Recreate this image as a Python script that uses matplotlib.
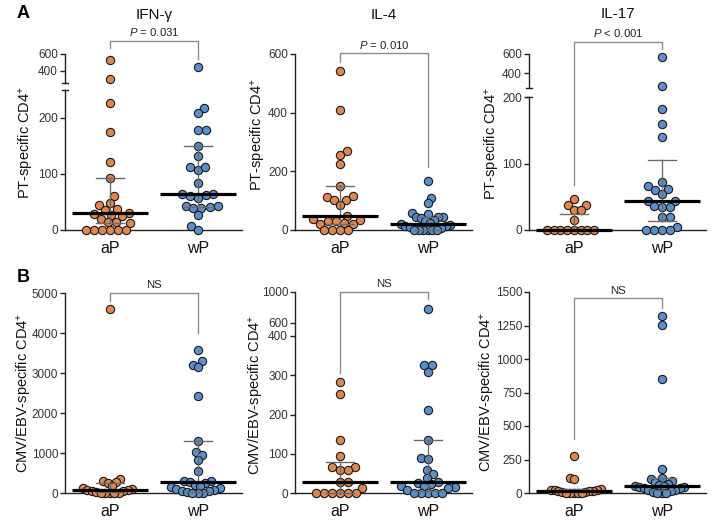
import numpy as np
import matplotlib
matplotlib.use("Agg")
import matplotlib.pyplot as plt
import matplotlib.transforms as mtransforms

plt.rcParams['font.family'] = ['Liberation Sans', 'DejaVu Sans']
plt.rcParams['mathtext.fontset'] = 'custom'
plt.rcParams['mathtext.rm'] = 'Liberation Sans'
plt.rcParams['mathtext.it'] = 'Liberation Sans:italic'

groups = ['aP', 'wP']

# A: PT-specific CD4+ responses
ifng_ap = [530, 304, 227, 175, 121, 93, 61, 49, 45, 38, 36, 30, 28, 27, 25, 20, 15, 14, 12, 0, 0, 0, 0, 0, 0]
ifng_wp = [441, 218, 209, 179, 179, 150, 133, 112, 107, 112, 84, 64, 62, 60, 65, 58, 42, 40, 41, 39, 42, 27, 7, 0]
il4_ap = [543, 408, 269, 257, 225, 149, 117, 114, 103, 103, 86, 48, 36, 34, 32, 30, 24, 22, 20, 0, 0, 0, 0]
il4_wp = [166, 109, 91, 57, 54, 46, 43, 43, 40, 34, 30, 25, 22, 18, 15, 12, 10, 8, 0, 0, 0, 0, 0, 0]
il17_ap = [47, 38, 37, 30, 30, 15, 0, 0, 0, 0, 0, 0, 0, 0]
il17_wp = [566, 272, 182, 160, 140, 72, 67, 62, 60, 55, 44, 44, 36, 35, 35, 20, 19, 5, 0, 0, 0, 0]

# B: CMV/EBV-specific CD4+ responses
ifng_cmv_ap = [4608, 350, 292, 267, 250, 180, 130, 100, 80, 70, 60, 40, 20, 10, 0, 0, 0, 0]
ifng_cmv_wp = [3583, 3292, 3208, 3150, 2433, 1292, 1017, 958, 833, 542, 290, 290, 270, 250, 200,
               180, 150, 120, 100, 80, 60, 40, 20, 10, 0, 0]
il4_cmv_ap = [282, 253, 135, 93, 66, 65, 58, 58, 28, 27, 14, 0, 0, 0, 0, 0, 0]
il4_cmv_wp = [776, 326, 326, 308, 212, 134, 88, 86, 59, 49, 38, 27, 25, 22, 18, 17, 15, 12, 8, 0, 0, 0, 0, 0]
il17_cmv_ap = [274, 112, 107, 30, 25, 22, 20, 18, 15, 12, 10, 5, 0, 0, 0, 0, 0]
il17_cmv_wp = [1318, 1256, 851, 179, 112, 104, 87, 80, 65, 60, 55, 50, 48, 45, 40, 35, 25, 20, 12, 8, 0, 0, 0]

# median and error bar ends (aP, wP) as drawn
ifng_med, ifng_lo, ifng_hi = [31, 64], [12, 41], [93, 150]
il4_med, il4_lo, il4_hi = [48, 20], [22, 0], [149, 46]
il17_med, il17_lo, il17_hi = [0, 44], [0, 13], [24, 106]
ifng_cmv_med, ifng_cmv_lo, ifng_cmv_hi = [75, 270], [20, 30], [250, 1292]
il4_cmv_med, il4_cmv_lo, il4_cmv_hi = [28, 27], [0, 5], [80, 134]
il17_cmv_med, il17_cmv_lo, il17_cmv_hi = [17, 50], [5, 20], [30, 112]

titles = ['IFN-γ', 'IL-4', 'IL-17']
pvals = ['$P$ = 0.031', '$P$ = 0.010', '$P$ < 0.001', 'NS', 'NS', 'NS']
ylab_a = 'PT-specific CD4$^{+}$'
ylab_b = 'CMV/EBV-specific CD4$^{+}$'

ORANGE = '#E0874F'
BLUE = '#5B8FCB'
W, H = 714, 528

fig = plt.figure(figsize=(W / 100, H / 100), dpi=100)

# layout in pixels: left, zero-line y, scale breakpoints (values -> px above zero), ticks, breaks
panels = [
    dict(left=65, y0=230, vals=[0, 250, 251, 600], px=[0, 140, 147, 176], brk=(250, 251),
         ticks=[0, 100, 200, 400, 600], ap=ifng_ap, wp=ifng_wp,
         med=ifng_med, lo=ifng_lo, hi=ifng_hi, ylab=ylab_a, ylx=36, yly=142,
         bracket=(41, 48, 59), ptxt=32, title=15),
    dict(left=295, y0=230, vals=[0, 600], px=[0, 176], brk=None,
         ticks=[0, 200, 400, 600], ap=il4_ap, wp=il4_wp,
         med=il4_med, lo=il4_lo, hi=il4_hi, ylab=ylab_a, ylx=268, yly=134,
         bracket=(53, 62, 167), ptxt=45, title=15),
    dict(left=529, y0=230, vals=[0, 200, 250, 600], px=[0, 132.7, 142, 176], brk=(200, 250),
         ticks=[0, 100, 200, 400, 600], ap=il17_ap, wp=il17_wp,
         med=il17_med, lo=il17_lo, hi=il17_hi, ylab=ylab_a, ylx=502, yly=143,
         bracket=(42, 185, 49), ptxt=33, title=14),
    dict(left=65, y0=493, vals=[0, 5000], px=[0, 200], brk=None,
         ticks=[0, 1000, 2000, 3000, 4000, 5000], ap=ifng_cmv_ap, wp=ifng_cmv_wp,
         med=ifng_cmv_med, lo=ifng_cmv_lo, hi=ifng_cmv_hi, ylab=ylab_b, ylx=34, yly=393,
         bracket=(293, 301, 333), ptxt=285, title=None),
    dict(left=295, y0=493, vals=[0, 400, 470, 1000], px=[0, 157, 160.5, 201], brk=None,
         ticks=[0, 100, 200, 300, 400, 600, 1000], ap=il4_cmv_ap, wp=il4_cmv_wp,
         med=il4_cmv_med, lo=il4_cmv_lo, hi=il4_cmv_hi, ylab=ylab_b, ylx=266, yly=395,
         bracket=(292, 373, 299), ptxt=284, title=None),
    dict(left=529, y0=493, vals=[0, 1500], px=[0, 201], brk=None,
         ticks=[0, 250, 500, 750, 1000, 1250, 1500], ap=il17_cmv_ap, wp=il17_cmv_wp,
         med=il17_cmv_med, lo=il17_cmv_lo, hi=il17_cmv_hi, ylab=ylab_b, ylx=497, yly=392,
         bracket=(298, 439, 308), ptxt=291, title=None),
]

XMIN, XMAX = -0.51, 1.5
PXU = 88.0   # pixels per x unit
DOT = 8.3    # marker diameter, px
SPREAD = 27  # max half-width of a swarm, px


def swarm(ypx, d):
    # simple beeswarm: place each point at the nearest free x offset (pixels)
    ypx = np.asarray(ypx, float)
    xs = np.zeros(len(ypx))
    placed = []
    for k, i in enumerate(np.argsort(ypx, kind='stable')):
        y = ypx[i]
        cands = [0.0]
        for j in placed:
            dy = y - ypx[j]
            if abs(dy) < d:
                dx = np.sqrt(d * d - dy * dy)
                cands += [xs[j] + dx, xs[j] - dx]
        cands.sort(key=lambda c: (round(abs(c), 3), c if k % 2 else -c))
        for c in cands:
            if all((c - xs[j]) ** 2 + (y - ypx[j]) ** 2 >= d * d - 1e-6 for j in placed):
                xs[i] = c
                break
        placed.append(i)
    wmax = np.abs(xs).max()
    if wmax > SPREAD:
        xs = xs * SPREAD / wmax
    return xs


for n, p in enumerate(panels):
    width = (XMAX - XMIN) * PXU
    top = p['px'][-1]
    ax = fig.add_axes([p['left'] / W, 1 - p['y0'] / H, width / W, top / H])
    vals, pxs = p['vals'], p['px']
    fwd = lambda v, vals=vals, pxs=pxs: np.interp(v, vals, pxs)
    inv = lambda q, vals=vals, pxs=pxs: np.interp(q, pxs, vals)
    ax.set_yscale('function', functions=(fwd, inv))
    ax.set_xlim(XMIN, XMAX)
    ax.set_ylim(vals[0], vals[-1])

    for g, (data, col) in enumerate([(p['ap'], ORANGE), (p['wp'], BLUE)]):
        data = np.asarray(data, float)
        xoff = swarm(fwd(data), DOT * 0.97) / PXU
        ax.plot(g + xoff, data, 'o', ms=DOT * 0.72, mfc=col, mec='#1a1a1a', mew=0.8,
                clip_on=False, zorder=3)
        ax.plot([g, g], [p['lo'][g], p['hi'][g]], color='#6b6b6b', lw=1, zorder=4, clip_on=False)
        for yy in (p['lo'][g], p['hi'][g]):
            ax.plot([g - 0.16, g + 0.16], [yy, yy], color='#6b6b6b', lw=1, zorder=4, clip_on=False)
        ax.plot([g - 0.43, g + 0.43], [p['med'][g]] * 2, color='black', lw=2.3,
                solid_capstyle='butt', zorder=5, clip_on=False)

    # axes styling
    for s in ('top', 'right', 'left'):
        ax.spines[s].set_visible(False)
    ax.spines['bottom'].set_color('#222222')
    ax.spines['bottom'].set_linewidth(1)
    ax.spines['bottom'].set_zorder(2)
    yt = ax.get_yaxis_transform()
    if p['brk']:
        segs = [(vals[0], p['brk'][0]), (p['brk'][1], vals[-1])]
    else:
        segs = [(vals[0], vals[-1])]
    for a, b in segs:
        ax.plot([0, 0], [a, b], color='#222222', lw=1, transform=yt, clip_on=False)
    if p['brk']:
        for yy in p['brk']:
            ax.plot([-3 / width, 3 / width], [yy, yy], color='#222222', lw=1,
                    transform=yt, clip_on=False)
    ax.set_yticks(p['ticks'])
    ax.set_yticklabels([str(t) for t in p['ticks']])
    ax.tick_params(axis='y', length=3.5, width=1, color='#222222', labelsize=8.5,
                   labelcolor='#333333', pad=1.5)
    ax.set_xticks([0, 1])
    ax.set_xticklabels(groups)
    ax.tick_params(axis='x', length=0, labelsize=11.5, pad=8, labelcolor='#111111')
    ax.set_ylabel(p['ylab'], fontsize=10.5, color='#111111')
    ax.yaxis.set_label_coords((p['ylx'] - p['left']) / width,
                              (p['y0'] - p['yly']) / top)

    # significance bracket and labels
    bt = mtransforms.blended_transform_factory(ax.transData, fig.transFigure)
    by, lend, rend = p['bracket']
    ax.plot([0, 0, 1, 1], [1 - lend / H, 1 - by / H, 1 - by / H, 1 - rend / H],
            color='#8c8c8c', lw=1, transform=bt, clip_on=False)
    ax.text(0.5, 1 - p['ptxt'] / H, pvals[n], transform=bt, ha='center', va='center',
            fontsize=8.2, color='#222222')
    if p['title']:
        ax.text(0.5, 1 - p['title'] / H, titles[n], transform=bt, ha='center', va='center',
                fontsize=11, color='#111111')

fig.text(17 / W, 1 - 13 / H, 'A', fontsize=13, fontweight='bold', va='center')
fig.text(17 / W, 1 - 277 / H, 'B', fontsize=13, fontweight='bold', va='center')

fig.savefig('out.png', dpi=100)
